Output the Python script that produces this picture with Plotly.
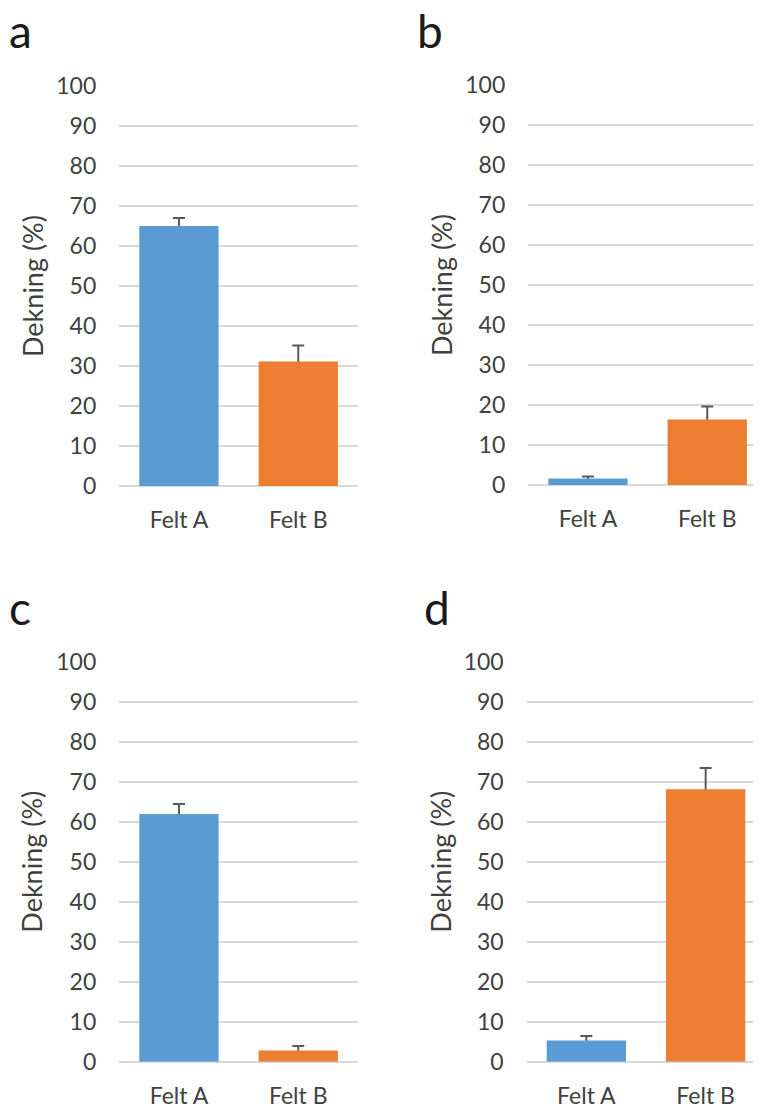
import plotly.graph_objects as go

# ---------------- data ----------------
categories = ["Felt A", "Felt B"]
panel_letters = ["a", "b", "c", "d"]
values_a = [65.0, 31.1]
errors_a = [2.0, 4.0]
values_b = [1.6, 16.4]
errors_b = [0.5, 3.2]
values_c = [61.9, 2.8]
errors_c = [2.5, 1.1]
values_d = [5.3, 68.1]
errors_d = [1.1, 5.3]
y_tick_values = [0, 10, 20, 30, 40, 50, 60, 70, 80, 90, 100]
y_title = "Dekning (%)"

# ---------------- layout helpers ----------------
PAGE_W, PAGE_H = 761, 1106
OFF = 8  # default body margin of the page
W, H = PAGE_W - OFF, PAGE_H - OFF
FONT = "Lato"
TXT = "#404040"
GRID = "#d9d9d9"
COLORS = ["#5B9BD5", "#ED7D31"]
CAT_W = 119.3  # px per category


def px_x(p):
    """screen px -> paper x"""
    return (p - OFF) / W


def px_y(p):
    """screen px -> paper y"""
    return 1 - (p - OFF) / H


# panel geometry in screen px: (values, errors, left, top (value 100), bottom (value 0),
#                               title x, letter x, letter y)
panels = [
    (values_a, errors_a, 119.3, 86.0, 486.0, 32, 7, 31),
    (values_b, errors_b, 528.3, 85.0, 485.0, 441, 415, 31),
    (values_c, errors_c, 119.3, 661.7, 1061.7, 32, 7, 607),
    (values_d, errors_d, 526.7, 661.7, 1061.7, 441, 422, 607),
]

fig = go.Figure()
annotations = []
bar_w = [79.3 / CAT_W] * len(categories)
for i, (vals, errs, left, top, bottom, tx, lx, ly) in enumerate(panels):
    n = "" if i == 0 else str(i + 1)
    right = min(left + 2 * CAT_W, PAGE_W)
    xr_max = -0.5 + (right - left) / CAT_W
    # error bars (drawn first, lower half hidden behind the real bars)
    fig.add_trace(go.Bar(
        x=categories, y=vals, width=bar_w,
        marker=dict(color="rgba(0,0,0,0)", line=dict(width=0)),
        error_y=dict(type="data", symmetric=True, array=errs,
                     color="#595959", thickness=2, width=6),
        xaxis="x" + n, yaxis="y" + n, showlegend=False, hoverinfo="skip",
    ))
    fig.add_trace(go.Bar(
        x=categories, y=vals, width=bar_w,
        marker=dict(color=COLORS, line=dict(width=0)),
        xaxis="x" + n, yaxis="y" + n, showlegend=False,
    ))
    xa = dict(domain=[px_x(left), min(px_x(right), 1.0)], range=[-0.5, xr_max],
              anchor="y" + n, showgrid=False, showline=False, zeroline=False,
              ticks="", ticklabelstandoff=18, automargin=False,
              tickfont=dict(family=FONT, size=23, color=TXT), fixedrange=True)
    ya = dict(domain=[px_y(bottom), px_y(top)], range=[0, 100],
              anchor="x" + n, tickvals=y_tick_values,
              showgrid=True, gridcolor=GRID, gridwidth=1.5,
              zeroline=True, zerolinecolor=GRID, zerolinewidth=1.5,
              showline=False, ticks="", ticklabelstandoff=22, automargin=False,
              tickfont=dict(family=FONT, size=23, color=TXT), fixedrange=True)
    fig.update_layout(**{"xaxis" + n: xa, "yaxis" + n: ya})
    annotations.append(dict(
        text=y_title, textangle=-90, xref="paper", yref="paper",
        x=px_x(tx), y=px_y((top + bottom) / 2), xanchor="center", yanchor="middle",
        showarrow=False, font=dict(family=FONT, size=27, color=TXT)))
    annotations.append(dict(
        text=panel_letters[i], xref="paper", yref="paper",
        x=px_x(lx), y=px_y(ly), xanchor="left", yanchor="middle",
        showarrow=False, font=dict(family=FONT, size=46, color="#1a1a1a")))

fig.update_layout(
    width=W, height=H, margin=dict(l=0, r=0, t=0, b=0, pad=0, autoexpand=False),
    paper_bgcolor="white", plot_bgcolor="white",
    annotations=annotations, barmode="overlay",
)

fig.write_html("out.html")
